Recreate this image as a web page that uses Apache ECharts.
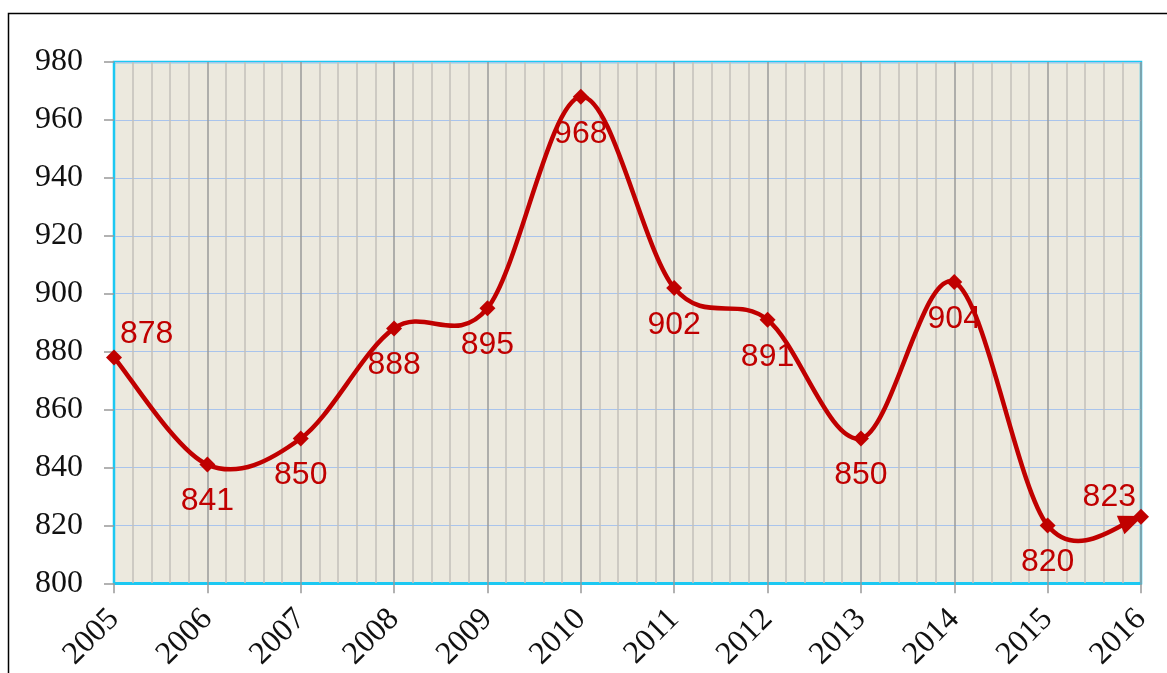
<!DOCTYPE html>
<html>
<head>
<meta charset="utf-8">
<script src="https://cdn.jsdelivr.net/npm/echarts@6/dist/echarts.min.js"></script>
<style>
html,body{margin:0;padding:0;background:#fff;}
#chart{width:1167px;height:673px;}
</style>
</head>
<body>
<div id="chart"></div>
<script>
const years = [2005, 2006, 2007, 2008, 2009, 2010, 2011, 2012, 2013, 2014, 2015, 2016];
const values = [878, 841, 850, 888, 895, 968, 902, 891, 850, 904, 820, 823];
const yTicks = [800, 820, 840, 860, 880, 900, 920, 940, 960, 980];

const RED = '#C00000';
const SERIF = "'Liberation Serif', 'Times New Roman', serif";
const SANS = "'Liberation Sans', Arial, sans-serif";

const seriesData = years.map((y, i) => {
  const item = { value: [y, values[i]] };
  if (i === 0) item.label = { position: 'right', distance: 0, offset: [-2, -23] };
  if (i === years.length - 1) item.label = { position: 'left', distance: 0, offset: [3, -20] };
  return item;
});

// Excel-like smooth curve (Catmull-Rom through the points, in pixel space)
function renderCurve(params, api) {
  const pts = years.map((y, i) => api.coord([y, values[i]]));
  const n = pts.length;
  const tan = pts.map((p, i) => {
    const a = pts[Math.max(0, i - 1)], b = pts[Math.min(n - 1, i + 1)];
    return [(b[0] - a[0]) / 2, (b[1] - a[1]) / 2];
  });
  const d = [];
  d.push('M' + pts[0][0] + ',' + pts[0][1]);
  let lastC2 = null, lastC1 = null;
  for (let i = 0; i < n - 1; i++) {
    const c1 = [pts[i][0] + tan[i][0] / 3, pts[i][1] + tan[i][1] / 3];
    const c2 = [pts[i + 1][0] - tan[i + 1][0] / 3, pts[i + 1][1] - tan[i + 1][1] / 3];
    d.push('C' + c1[0] + ',' + c1[1] + ' ' + c2[0] + ',' + c2[1] + ' ' + pts[i + 1][0] + ',' + pts[i + 1][1]);
    lastC1 = c1; lastC2 = c2;
  }
  // arrow head direction at the end of the curve
  const p0 = pts[n - 2], p3 = pts[n - 1];
  const t = 0.8, mt = 1 - t;
  const bx = mt*mt*mt*p0[0] + 3*mt*mt*t*lastC1[0] + 3*mt*t*t*lastC2[0] + t*t*t*p3[0];
  const by = mt*mt*mt*p0[1] + 3*mt*mt*t*lastC1[1] + 3*mt*t*t*lastC2[1] + t*t*t*p3[1];
  let dx = p3[0] - bx, dy = p3[1] - by;
  const len = Math.sqrt(dx*dx + dy*dy); dx /= len; dy /= len;
  const tip = [p3[0] + dx * 2, p3[1] + dy * 2];
  const base = [p3[0] - dx * 22, p3[1] - dy * 22];
  const nx = -dy, ny = dx, hw = 10;
  return {
    type: 'group',
    children: [{
      type: 'path',
      shape: { pathData: d.join(' ') },
      style: { fill: 'none', stroke: RED, lineWidth: 4.5, lineJoin: 'round' }
    }, {
      type: 'polygon',
      shape: { points: [tip, [base[0] + nx*hw, base[1] + ny*hw], [base[0] - nx*hw, base[1] - ny*hw]] },
      style: { fill: RED }
    }]
  };
}

const chart = echarts.init(document.getElementById('chart'), null, { renderer: 'canvas' });
chart.setOption({
  animation: false,
  backgroundColor: '#ffffff',
  graphic: [{
    type: 'rect',
    shape: { x: 8.5, y: 13.5, width: 1300, height: 800 },
    style: { fill: 'none', stroke: '#000', lineWidth: 1.5 },
    silent: true, z: -1
  }],
  grid: {
    left: 114, top: 62, right: 26, bottom: 88,
    show: true, backgroundColor: '#ECE9DE',
    borderColor: '#1CC8F2', borderWidth: 2.5
  },
  xAxis: {
    type: 'value',
    min: years[0], max: years[years.length - 1], interval: 1,
    axisLine: { show: true, lineStyle: { color: '#1CC8F2', width: 2 } },
    axisTick: { show: true, length: 10, lineStyle: { color: '#999', width: 1.5 } },
    minorTick: { show: false, splitNumber: 5 },
    splitLine: { show: true, lineStyle: { color: '#9A9A9A', width: 1.5 } },
    minorSplitLine: { show: true, lineStyle: { color: '#C2C0BA', width: 1.5 } },
    axisLabel: {
      rotate: 45, margin: 31,
      fontFamily: SERIF, fontSize: 32, color: '#111',
      formatter: v => String(v)
    }
  },
  yAxis: {
    type: 'value',
    min: yTicks[0], max: yTicks[yTicks.length - 1], interval: 20,
    axisLine: { show: true, lineStyle: { color: '#1CC8F2', width: 2 } },
    axisTick: { show: true, length: 10, lineStyle: { color: '#999', width: 1.5 } },
    splitLine: { show: true, lineStyle: { color: '#A9C4EC', width: 1.2 } },
    axisLabel: {
      margin: 31,
      fontFamily: SERIF, fontSize: 32, color: '#111'
    }
  },
  series: [{
    type: 'custom',
    data: [[years[0], values[0]]],
    renderItem: renderCurve,
    silent: true,
    z: 2
  }, {
    type: 'line',
    data: seriesData,
    symbol: 'diamond',
    symbolSize: 16,
    lineStyle: { width: 0, opacity: 0 },
    itemStyle: { color: RED },
    label: {
      show: true, position: 'bottom', distance: 13,
      fontFamily: SANS, fontSize: 32, color: RED,
      formatter: p => String(p.value[1])
    },
    z: 3
  }]
});
</script>
</body>
</html>
